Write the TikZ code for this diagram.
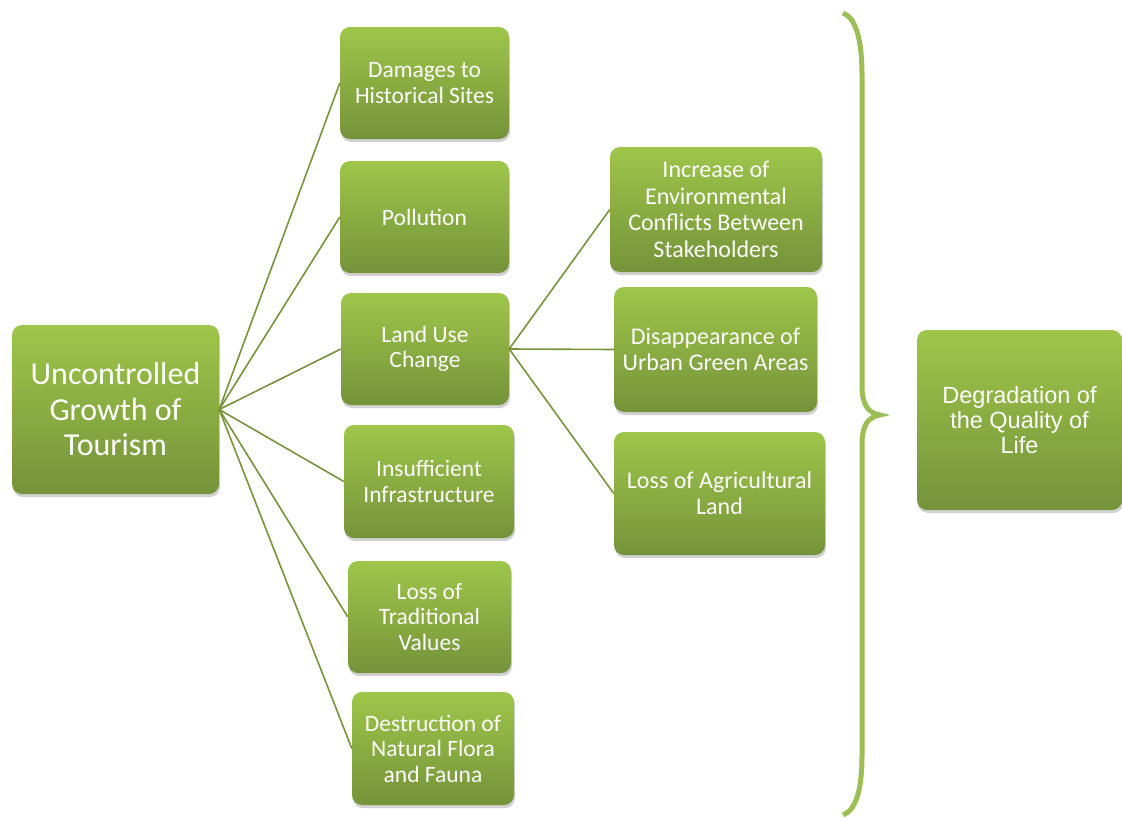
\documentclass[tikz,border=0pt]{standalone}
\usepackage{fontspec}
\setmainfont{Carlito}
\newfontfamily\arialf{Liberation Sans}
\usetikzlibrary{shadows}
\definecolor{gtop}{RGB}{158,198,74}
\definecolor{gbot}{RGB}{117,147,58}
\definecolor{lnk}{RGB}{119,147,60}
\definecolor{brc}{RGB}{155,190,85}
\tikzset{
  gbox/.style={rectangle, rounded corners=10pt, top color=gtop, bottom color=gbot,
    draw=none, text=white, align=center, inner sep=0pt,
    drop shadow={shadow xshift=1pt, shadow yshift=-3pt, opacity=0.3, fill=black!60},
    font=\fontsize{23.5}{25.5}\selectfont},
  link/.style={draw=lnk, line width=1.6pt},
}
\begin{document}
\begin{tikzpicture}[x=1pt, y=-1pt]
\useasboundingbox (0,0) rectangle (1122,819);
\node[gbox, minimum width=207pt, minimum height=169pt, font=\fontsize{32}{35.5}\selectfont] (unc) at (115.5,409.5) {Uncontrolled\\Growth of\\Tourism};
\node[gbox, minimum width=169pt, minimum height=112pt] (dam) at (424.5,83) {Damages to\\Historical Sites};
\node[gbox, minimum width=169pt, minimum height=112pt] (pol) at (424.5,217) {Pollution};
\node[gbox, minimum width=168pt, minimum height=112pt] (luc) at (425,349) {Land Use\\Change};
\node[gbox, minimum width=170pt, minimum height=113pt] (ins) at (429,481.5) {Insufficient\\Infrastructure};
\node[gbox, minimum width=163pt, minimum height=112pt] (ltv) at (429.5,617) {Loss of\\Traditional\\Values};
\node[gbox, minimum width=162pt, minimum height=113pt] (dff) at (433,748.5) {Destruction of\\Natural Flora\\and Fauna};
\node[gbox, minimum width=212pt, minimum height=125pt, font=\fontsize{24}{26.5}\selectfont] (inc) at (716,209.5) {Increase of\\Environmental\\Conflicts Between\\Stakeholders};
\node[gbox, minimum width=203pt, minimum height=125pt, font=\fontsize{24}{26}\selectfont] (dis) at (715.5,349.5) {Disappearance of\\Urban Green Areas};
\node[gbox, minimum width=211pt, minimum height=123pt, font=\fontsize{24}{26}\selectfont] (lag) at (719.5,493.5) {Loss of Agricultural\\Land};
\node[gbox, minimum width=205pt, minimum height=180pt, font=\arialf\fontsize{23.5}{25}\selectfont] (deg) at (1019.5,420) {Degradation of\\the Quality of\\Life};
\foreach \t in {dam,pol,luc,ins,ltv,dff} \draw[link] (unc.east) -- (\t.west);
\foreach \t in {inc,dis,lag} \draw[link] (luc.east) -- (\t.west);
\draw[brc, line width=5pt] (843,13) .. controls (856,18) and (862,40) .. (862,75) -- (862,385)
  .. controls (862,405) and (868,413) .. (880,415)
  .. controls (868,417) and (862,425) .. (862,445) -- (862,755)
  .. controls (862,790) and (856,810) .. (843,815);
\end{tikzpicture}
\end{document}
